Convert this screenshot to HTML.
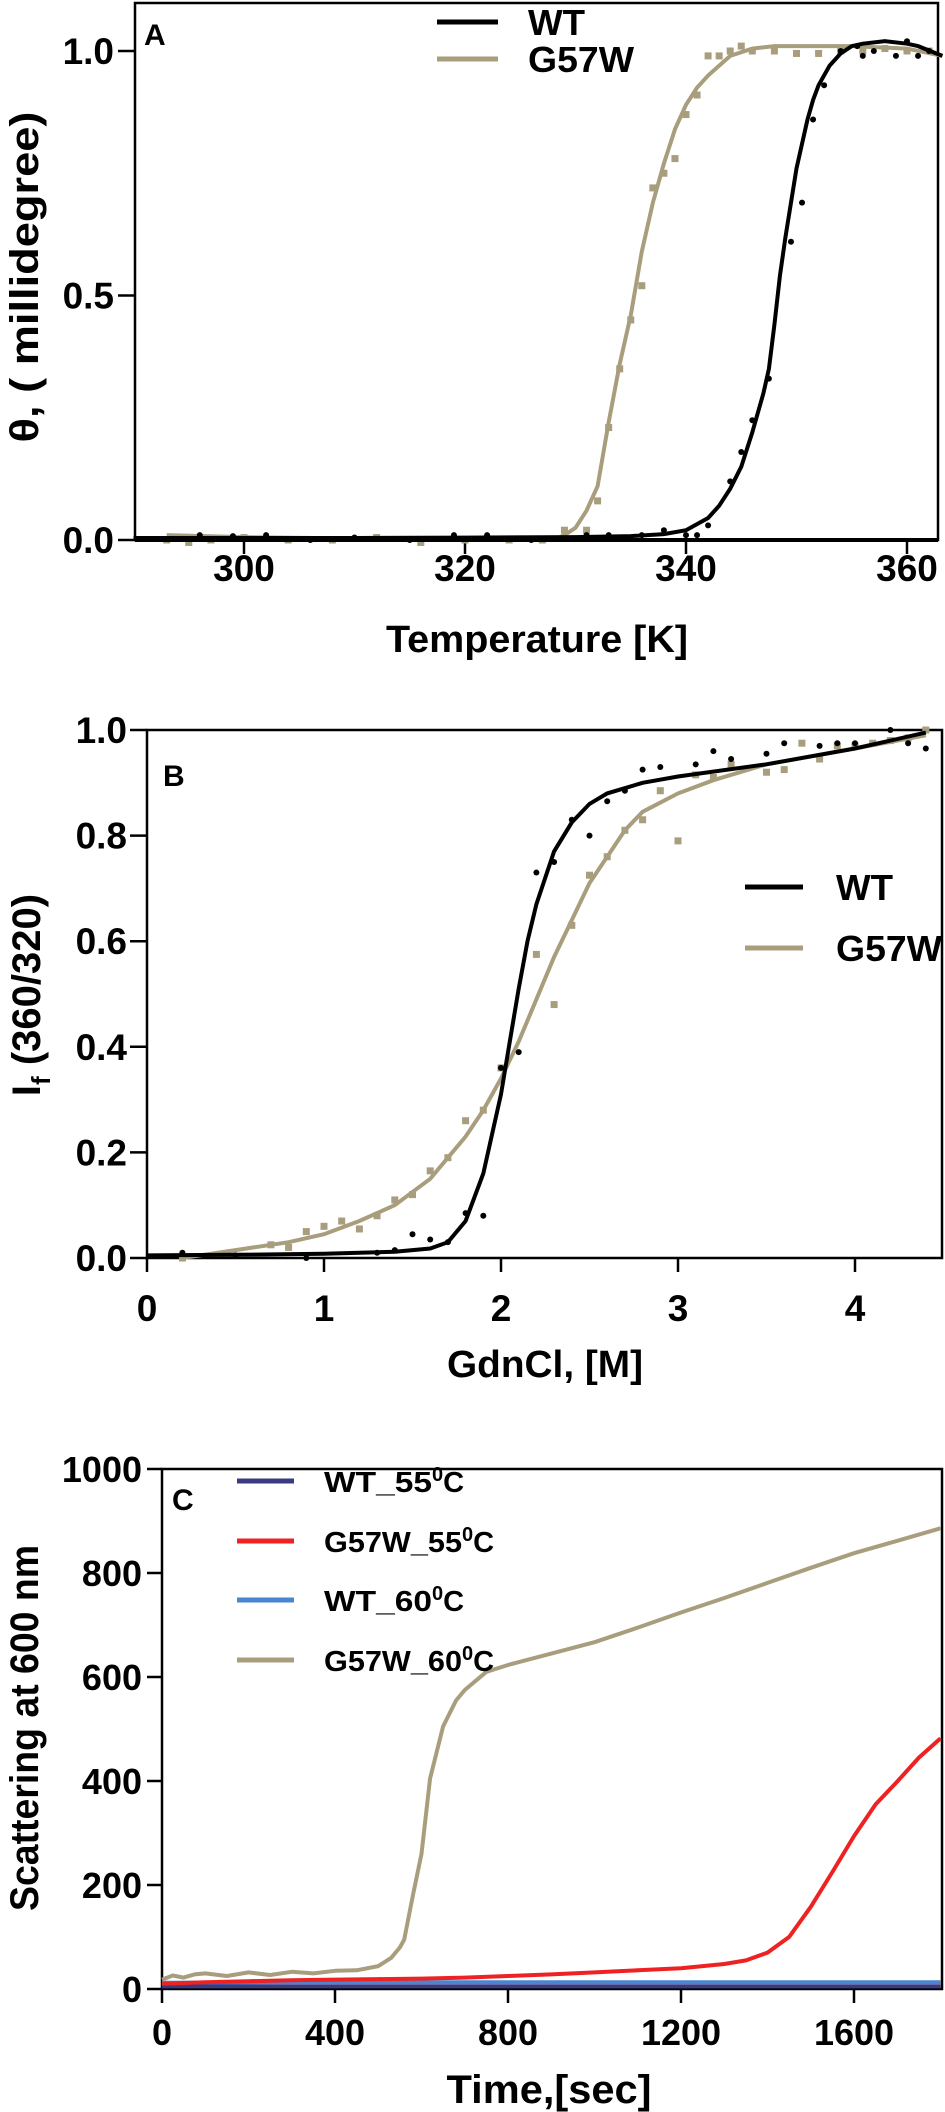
<!DOCTYPE html>
<html><head><meta charset="utf-8"><style>
html,body{margin:0;padding:0;background:#fff;}
svg{display:block;font-family:"Liberation Sans",Arial,sans-serif;font-weight:bold;}
</style></head><body>
<svg id="fig" width="945" height="2112" viewBox="0 0 945 2112" xmlns="http://www.w3.org/2000/svg"></svg>
<script>
// ---------- Panel A data ----------
const aTicksX = [300, 320, 340, 360];
const aTicksY = [0.0, 0.5, 1.0];
const aTickLabelsY = ["0.0", "0.5", "1.0"];
const aWtCurveT = [290, 300, 310, 320, 330, 335, 338, 340, 342, 343, 344, 345, 346, 346.5, 347, 347.5, 348, 348.5, 349, 349.5, 350, 350.5, 351, 351.5, 352, 353, 354, 355, 356, 358, 360, 361, 363.2];
const aWtCurveV = [0.004, 0.004, 0.004, 0.005, 0.006, 0.008, 0.012, 0.02, 0.045, 0.07, 0.105, 0.15, 0.22, 0.26, 0.3, 0.35, 0.44, 0.54, 0.62, 0.69, 0.76, 0.81, 0.86, 0.9, 0.93, 0.97, 0.995, 1.01, 1.015, 1.02, 1.015, 1.01, 0.99];
const aG57CurveT = [293, 300, 310, 320, 328, 329, 330, 331, 332, 333, 334, 335, 336, 337, 338, 339, 340, 341, 342, 344, 346, 348, 355, 360, 363.2];
const aG57CurveV = [0.01, 0.006, 0.003, 0.001, 0.0, 0.01, 0.025, 0.06, 0.11, 0.24, 0.36, 0.46, 0.59, 0.69, 0.77, 0.84, 0.89, 0.925, 0.95, 0.99, 1.005, 1.01, 1.01, 1.005, 0.99];
const aWtDotsT = [296, 299, 302, 306, 310, 315, 319, 322, 326, 331, 333, 336, 338, 340, 341, 342, 344, 345, 346, 347.5, 349.5, 350.5, 351.5, 352.5, 354, 355.5, 356, 357, 359, 360, 361, 362];
const aWtDotsV = [0.01, 0.008, 0.01, 0.0, 0.005, 0.0, 0.01, 0.01, 0.0, 0.01, 0.01, 0.01, 0.02, 0.01, 0.01, 0.03, 0.12, 0.18, 0.245, 0.33, 0.61, 0.69, 0.86, 0.93, 1.0, 1.01, 0.99, 1.0, 0.99, 1.02, 0.99, 1.0];
const aG57DotsT = [293, 295, 297, 300, 304, 308, 312, 316, 320, 324, 327, 329, 331, 332, 333, 334, 335, 336, 337, 338, 339, 340, 341, 342, 343, 344, 345, 346, 348, 350, 352, 354, 356, 358, 360, 362];
const aG57DotsV = [0.0, -0.005, 0.0, 0.005, 0.0, 0.0, 0.005, -0.005, 0.0, 0.0, 0.0, 0.02, 0.02, 0.08, 0.23, 0.35, 0.45, 0.52, 0.72, 0.75, 0.78, 0.87, 0.91, 0.99, 0.99, 1.0, 1.01, 1.0, 1.0, 0.995, 0.995, 1.0, 1.0, 1.005, 1.0, 1.0];

// ---------- Panel B data ----------
const bTicksX = [0, 1, 2, 3, 4];
const bTicksY = [0.0, 0.2, 0.4, 0.6, 0.8, 1.0];
const bTickLabelsY = ["0.0", "0.2", "0.4", "0.6", "0.8", "1.0"];
const bWtCurveX = [0, 0.5, 1.0, 1.4, 1.6, 1.7, 1.8, 1.9, 2.0, 2.05, 2.1, 2.15, 2.2, 2.3, 2.4, 2.5, 2.6, 2.8, 3.0, 3.5, 4.0, 4.4];
const bWtCurveV = [0.005, 0.006, 0.008, 0.012, 0.018, 0.03, 0.07, 0.16, 0.31, 0.41, 0.51, 0.6, 0.67, 0.77, 0.825, 0.86, 0.88, 0.9, 0.912, 0.935, 0.965, 0.995];
const bG57CurveX = [0.2, 0.5, 0.8, 1.0, 1.2, 1.4, 1.6, 1.8, 1.9, 2.0, 2.1, 2.2, 2.3, 2.4, 2.5, 2.6, 2.7, 2.8, 3.0, 3.2, 3.5, 4.0, 4.4];
const bG57CurveV = [0.0, 0.015, 0.03, 0.045, 0.07, 0.1, 0.15, 0.23, 0.28, 0.34, 0.41, 0.49, 0.57, 0.64, 0.71, 0.76, 0.81, 0.845, 0.88, 0.905, 0.935, 0.965, 0.99];
const bWtDotsX = [0.2, 0.5, 0.9, 1.3, 1.4, 1.5, 1.6, 1.7, 1.8, 1.9, 2.0, 2.1, 2.2, 2.3, 2.4, 2.5, 2.6, 2.7, 2.8, 2.9, 3.1, 3.2, 3.3, 3.5, 3.6, 3.8, 3.9, 4.0, 4.2, 4.3, 4.4];
const bWtDotsV = [0.01, 0.005, 0.0, 0.01, 0.015, 0.045, 0.035, 0.03, 0.085, 0.08, 0.36, 0.39, 0.73, 0.75, 0.83, 0.8, 0.865, 0.885, 0.925, 0.93, 0.935, 0.96, 0.945, 0.955, 0.975, 0.97, 0.975, 0.975, 1.0, 0.975, 0.965];
const bG57DotsX = [0.2, 0.7, 0.8, 0.9, 1.0, 1.1, 1.2, 1.3, 1.4, 1.5, 1.6, 1.7, 1.8, 1.9, 2.0, 2.2, 2.3, 2.4, 2.5, 2.6, 2.7, 2.8, 2.9, 3.0, 3.1, 3.2, 3.3, 3.5, 3.6, 3.7, 3.8, 3.9, 4.0, 4.1, 4.2, 4.3, 4.4];
const bG57DotsV = [0.0, 0.025, 0.02, 0.05, 0.06, 0.07, 0.055, 0.08, 0.11, 0.12, 0.165, 0.19, 0.26, 0.28, 0.36, 0.575, 0.48, 0.63, 0.725, 0.76, 0.81, 0.83, 0.885, 0.79, 0.915, 0.91, 0.935, 0.92, 0.925, 0.975, 0.945, 0.97, 0.97, 0.975, 0.98, 0.985, 1.0];

// ---------- Panel C data ----------
const cTicksX = [0, 400, 800, 1200, 1600];
const cTicksY = [0, 200, 400, 600, 800, 1000];
const cG60T = [0, 25, 50, 75, 100, 150, 200, 250, 300, 350, 400, 450, 500, 530, 550, 560, 580, 600, 620, 650, 680, 700, 750, 800, 900, 1000, 1100, 1200, 1300, 1400, 1500, 1600, 1700, 1800];
const cG60V = [18, 26, 22, 28, 30, 25, 32, 27, 33, 30, 35, 36, 44, 60, 80, 95, 180, 260, 405, 505, 555, 575, 610, 623, 645, 667, 695, 724, 752, 781, 810, 838, 862, 886];
const cG55T = [0, 100, 200, 300, 400, 500, 600, 700, 800, 900, 1000, 1100, 1200, 1300, 1350, 1400, 1450, 1500, 1550, 1600, 1650, 1700, 1750, 1800];
const cG55V = [10, 13, 15, 17, 18, 19, 20, 22, 25, 28, 32, 36, 40, 48, 55, 70, 100, 158, 225, 294, 355, 399, 445, 482];
const cW55T = [0, 600, 1200, 1800];
const cW55V = [5, 5, 5, 5];
const cW60T = [0, 300, 600, 900, 1200, 1500, 1800];
const cW60V = [12, 13, 13, 13, 13, 13, 13];

const NS = "http://www.w3.org/2000/svg";
const svg = document.getElementById("fig");
function mk(tag, attrs, parent) {
  const e = document.createElementNS(NS, tag);
  for (const k in attrs) e.setAttribute(k, attrs[k]);
  (parent || svg).appendChild(e);
  return e;
}
function path(xs, ys, sx, sy) {
  return xs.map((v, i) => (i ? "L" : "M") + sx(v).toFixed(1) + "," + sy(ys[i]).toFixed(1)).join("");
}
function txt(x, y, s, size, anchor, name, extra) {
  const t = mk("text", Object.assign({x: x, y: y, "font-size": size, "text-anchor": anchor || "start", fill: "#000"}, extra || {}));
  t.textContent = s;
  
  
  return t;
}

// ================= PANEL A =================
const aX0 = 135, aX1 = 938, aYtop = 3, aYbot = 540;
const aSx = v => 244 + (v - 300) * 221 / 20;
const aSy = v => 540 - v * 489;
const gA = mk("g", {});


const frameA = mk("rect", {x: aX0, y: aYtop, width: aX1 - aX0, height: aYbot - aYtop, fill: "none", stroke: "#000", "stroke-width": 2.5}, gA);


aTicksY.forEach((v, i) => {
  const tk = mk("line", {x1: 118, x2: aX0, y1: aSy(v), y2: aSy(v), stroke: "#000", "stroke-width": 2.5}, gA);
  
  
  txt(114, aSy(v) + 13, aTickLabelsY[i], 37, "end", "a-y-tick-label");
});
aTicksX.forEach(v => {
  const tk = mk("line", {x1: aSx(v), x2: aSx(v), y1: aYbot, y2: aYbot + 14, stroke: "#000", "stroke-width": 2.5}, gA);
  
  
  txt(aSx(v), 581, String(v), 37, "middle", "a-x-tick-label");
});
txt(537, 652, "Temperature [K]", 38, "middle", "a-x-axis-title", {textLength: 302, lengthAdjust: "spacingAndGlyphs"});
txt(0, 0, "θ, ( millidegree)", 40, "middle", "a-y-axis-title", {transform: "translate(38,277) rotate(-90)", textLength: 331, lengthAdjust: "spacingAndGlyphs"});
txt(144, 45, "A", 30, "start", "a-panel-letter");
const aG57Line = mk("path", {d: path(aG57CurveT, aG57CurveV, aSx, aSy), fill: "none", stroke: "#a89d7c", "stroke-width": 4}, gA);


aG57DotsT.forEach((t, i) => {
  const r = mk("rect", {x: aSx(t) - 3.5, y: aSy(aG57DotsV[i]) - 3.5, width: 7, height: 7, fill: "#a89d7c"}, gA);
  
  
});
const aWtLine = mk("path", {d: path(aWtCurveT, aWtCurveV, aSx, aSy), fill: "none", stroke: "#000", "stroke-width": 4}, gA);


aWtDotsT.forEach((t, i) => {
  const c = mk("circle", {cx: aSx(t), cy: aSy(aWtDotsV[i]), r: 3, fill: "#000"}, gA);
  
  
});
const aAxisX = mk("line", {x1: aX0, x2: aX1, y1: aYbot, y2: aYbot, stroke: "#000", "stroke-width": 4}, gA);


const aLeg1 = mk("line", {x1: 437, x2: 498, y1: 22, y2: 22, stroke: "#000", "stroke-width": 5}, gA);


txt(528, 35, "WT", 36, "start", "a-legend-wt-label", {textLength: 57, lengthAdjust: "spacingAndGlyphs"});
const aLeg2 = mk("line", {x1: 437, x2: 498, y1: 59, y2: 59, stroke: "#a89d7c", "stroke-width": 5}, gA);


txt(528, 72, "G57W", 36, "start", "a-legend-g57w-label", {textLength: 106, lengthAdjust: "spacingAndGlyphs"});

// ================= PANEL B =================
const bX0 = 147, bX1 = 942, bYtop = 730, bYbot = 1258;
const bSx = v => 147 + v * 177;
const bSy = v => 1258 - v * 528;
const gB = mk("g", {});


const frameB = mk("rect", {x: bX0, y: bYtop, width: bX1 - bX0, height: bYbot - bYtop, fill: "none", stroke: "#000", "stroke-width": 2.5}, gB);


bTicksY.forEach((v, i) => {
  const tk = mk("line", {x1: 130, x2: bX0, y1: bSy(v), y2: bSy(v), stroke: "#000", "stroke-width": 2.5}, gB);
  
  
  txt(127, bSy(v) + 13, bTickLabelsY[i], 37, "end", "b-y-tick-label");
});
bTicksX.forEach(v => {
  const tk = mk("line", {x1: bSx(v), x2: bSx(v), y1: bYbot, y2: bYbot + 14, stroke: "#000", "stroke-width": 2.5}, gB);
  
  
  txt(bSx(v), 1321, String(v), 37, "middle", "b-x-tick-label");
});
txt(545, 1377, "GdnCl, [M]", 38, "middle", "b-x-axis-title", {textLength: 196, lengthAdjust: "spacingAndGlyphs"});
const bYT = txt(0, 0, "I", 40, "middle", "b-y-axis-title", {transform: "translate(40,995) rotate(-90)"});
bYT.textContent = "";
const s1 = mk("tspan", {}, bYT); s1.textContent = "I";
const s2 = mk("tspan", {dy: 10, "font-size": 26}, bYT); s2.textContent = "f";
const s3 = mk("tspan", {dy: -10}, bYT); s3.textContent = " (360/320)";
txt(163, 786, "B", 30, "start", "b-panel-letter");
const bG57Line = mk("path", {d: path(bG57CurveX, bG57CurveV, bSx, bSy), fill: "none", stroke: "#a89d7c", "stroke-width": 4}, gB);


bG57DotsX.forEach((t, i) => {
  const r = mk("rect", {x: bSx(t) - 3.5, y: bSy(bG57DotsV[i]) - 3.5, width: 7, height: 7, fill: "#a89d7c"}, gB);
  
  
});
const bWtLine = mk("path", {d: path(bWtCurveX, bWtCurveV, bSx, bSy), fill: "none", stroke: "#000", "stroke-width": 4}, gB);


bWtDotsX.forEach((t, i) => {
  const c = mk("circle", {cx: bSx(t), cy: bSy(bWtDotsV[i]), r: 3, fill: "#000"}, gB);
  
  
});
const bLeg1 = mk("line", {x1: 745, x2: 803, y1: 887, y2: 887, stroke: "#000", "stroke-width": 5}, gB);


txt(836, 900, "WT", 36, "start", "b-legend-wt-label", {textLength: 57, lengthAdjust: "spacingAndGlyphs"});
const bLeg2 = mk("line", {x1: 745, x2: 803, y1: 948, y2: 948, stroke: "#a89d7c", "stroke-width": 5}, gB);


txt(836, 961, "G57W", 36, "start", "b-legend-g57w-label", {textLength: 106, lengthAdjust: "spacingAndGlyphs"});

// ================= PANEL C =================
const cX0 = 162, cX1 = 942, cYtop = 1469, cYbot = 1989;
const cSx = v => 162 + v * 173 / 400;
const cSy = v => 1989 - v * 0.52;
const gC = mk("g", {});


const frameC = mk("rect", {x: cX0, y: cYtop, width: cX1 - cX0, height: cYbot - cYtop, fill: "none", stroke: "#000", "stroke-width": 2.5}, gC);


cTicksY.forEach(v => {
  const tk = mk("line", {x1: 147, x2: cX0, y1: cSy(v), y2: cSy(v), stroke: "#000", "stroke-width": 2.5}, gC);
  
  
  txt(142, cSy(v) + 13, String(v), 36, "end", "c-y-tick-label");
});
cTicksX.forEach(v => {
  const tk = mk("line", {x1: cSx(v), x2: cSx(v), y1: cYbot, y2: cYbot + 14, stroke: "#000", "stroke-width": 2.5}, gC);
  
  
  txt(cSx(v), 2045, String(v), 36, "middle", "c-x-tick-label");
});
txt(549, 2103, "Time,[sec]", 40, "middle", "c-x-axis-title", {textLength: 205, lengthAdjust: "spacingAndGlyphs"});
txt(0, 0, "Scattering at 600 nm", 40, "middle", "c-y-axis-title", {transform: "translate(38,1728) rotate(-90)", textLength: 366, lengthAdjust: "spacingAndGlyphs"});
txt(172, 1510, "C", 30, "start", "c-panel-letter");
const cSeries = [
  [cW60T, cW60V, "#4a86cf", "c-wt-60c-line"],
  [cW55T, cW55V, "#3a3a82", "c-wt-55c-line"],
  [cG55T, cG55V, "#ee2222", "c-g57w-55c-line"],
  [cG60T, cG60V, "#a89d7c", "c-g57w-60c-line"]
];
cSeries.forEach(s => {
  const p = mk("path", {d: path(s[0], s[1], cSx, cSy), fill: "none", stroke: s[2], "stroke-width": 4, "stroke-linejoin": "round"}, gC);
  
  
});
const cLegend = [["WT_55", "#3a3a82", 1481, 108], ["G57W_55", "#ee2222", 1541, 138], ["WT_60", "#4a86cf", 1600, 108], ["G57W_60", "#a89d7c", 1660, 138]];
cLegend.forEach(l => {
  const sw = mk("line", {x1: 237, x2: 294, y1: l[2], y2: l[2], stroke: l[1], "stroke-width": 5}, gC);
  
  
  const t = txt(324, l[2] + 11, "", 29, "start", "c-legend-label");
  const a = mk("tspan", {textLength: l[3], lengthAdjust: "spacingAndGlyphs"}, t); a.textContent = l[0];
  const b = mk("tspan", {dy: -11, "font-size": 20}, t); b.textContent = "0";
  const c = mk("tspan", {dy: 11}, t); c.textContent = "C";
});
</script>
</body></html>
